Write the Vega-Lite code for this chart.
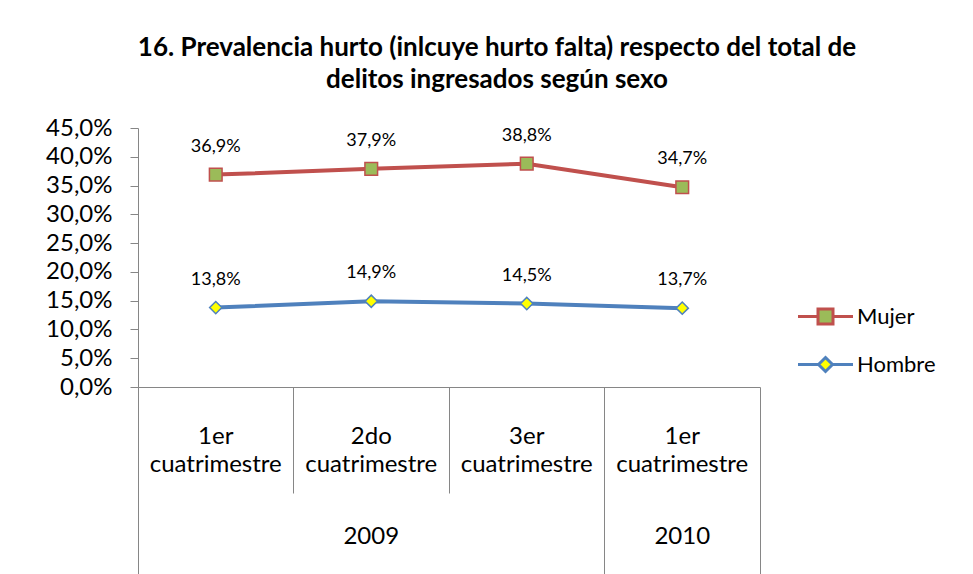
{
  "$schema": "https://vega.github.io/schema/vega-lite/v6.json",
  "width": 622,
  "height": 259,
  "autosize": {"type": "none"},
  "padding": {"left": 138, "top": 128, "right": 213, "bottom": 187},
  "background": "white",
  "config": {
    "locale": {"number": {"decimal": ",", "thousands": ".", "grouping": [3], "currency": ["", " €"]}},
    "view": {"stroke": null},
    "font": "Lato",
    "axisY": {
      "labelFont": "Lato", "labelFontSize": 24, "labelColor": "#000000",
      "labelPadding": 18, "tickSize": 8, "tickColor": "#868686", "domainColor": "#868686",
      "grid": false, "labelFlush": false, "labelOverlap": false
    }
  },
  "title": {
    "text": ["16. Prevalencia hurto (inlcuye hurto falta) respecto del total de", "delitos ingresados según sexo"],
    "font": "Lato",
    "fontSize": 26,
    "fontWeight": "bold",
    "color": "#000000",
    "lineHeight": 32,
    "anchor": "middle",
    "frame": "group",
    "dx": 48,
    "offset": 23
  },
  "data": {
    "values": [
      {"periodo": "1er cuatrimestre 2009", "serie": "Mujer", "valor": 0.369},
      {"periodo": "2do cuatrimestre 2009", "serie": "Mujer", "valor": 0.379},
      {"periodo": "3er cuatrimestre 2009", "serie": "Mujer", "valor": 0.388},
      {"periodo": "1er cuatrimestre 2010", "serie": "Mujer", "valor": 0.347},
      {"periodo": "1er cuatrimestre 2009", "serie": "Hombre", "valor": 0.138},
      {"periodo": "2do cuatrimestre 2009", "serie": "Hombre", "valor": 0.149},
      {"periodo": "3er cuatrimestre 2009", "serie": "Hombre", "valor": 0.145},
      {"periodo": "1er cuatrimestre 2010", "serie": "Hombre", "valor": 0.137}
    ]
  },
  "layer": [
    {
      "mark": {"type": "line", "strokeWidth": 4},
      "encoding": {
        "x": {
          "field": "periodo", "type": "nominal", "sort": null,
          "scale": {"type": "band", "paddingInner": 0, "paddingOuter": 0},
          "axis": {
            "orient": "bottom", "title": null, "bandPosition": 0, "labels": false, "grid": false,
            "domain": true, "domainColor": "#868686", "domainWidth": 1,
            "ticks": true, "tickColor": "#868686", "tickWidth": 1,
            "tickSize": {"condition": {"test": "datum.value === '2do cuatrimestre 2009' || datum.value === '3er cuatrimestre 2009'", "value": 106}, "value": 190}
          }
        },
        "y": {
          "field": "valor", "type": "quantitative",
          "scale": {"domain": [0, 0.45], "nice": false},
          "axis": {"title": null, "values": [0, 0.05, 0.1, 0.15, 0.2, 0.25, 0.3, 0.35, 0.4, 0.45], "format": ".1%"}
        },
        "color": {
          "field": "serie", "type": "nominal",
          "scale": {"domain": ["Mujer", "Hombre"], "range": ["#C0504D", "#4F81BD"]},
          "legend": {
            "title": null, "orient": "none", "legendX": 676, "legendY": 177, "padding": 0,
            "labelFont": "Lato", "labelFontSize": 22, "labelColor": "#000000",
            "symbolSize": 400, "symbolStrokeWidth": 3, "rowPadding": 21, "labelOffset": 20,
            "encode": {
              "symbols": {
                "update": {
                  "shape": {"signal": "datum.value === 'Mujer' ? 'M-2.75,0H-0.75M0.75,0H2.75M-0.75,-0.75H0.75V0.75H-0.75Z' : 'M-2.75,0H-0.7M0.7,0H2.75M0,-0.7L0.7,0L0,0.7L-0.7,0Z'"},
                  "fill": {"signal": "datum.value === 'Mujer' ? '#9BBB59' : '#FFFF00'"}
                }
              }
            }
          }
        }
      }
    },
    {
      "transform": [{"filter": "datum.serie === 'Mujer'"}],
      "mark": {"type": "point", "shape": "square", "filled": true, "opacity": 1, "fill": "#9BBB59", "stroke": "#C0504D", "strokeWidth": 1.5, "size": 160},
      "encoding": {
        "x": {
          "field": "periodo", "type": "nominal", "sort": null,
          "axis": {
            "orient": "bottom", "title": null, "bandPosition": 1, "values": ["1er cuatrimestre 2010"],
            "labels": false, "domain": false, "grid": false,
            "tickSize": 190, "tickColor": "#868686", "tickWidth": 1
          }
        },
        "y": {"field": "valor", "type": "quantitative", "axis": {"title": null, "values": [0, 0.05, 0.1, 0.15, 0.2, 0.25, 0.3, 0.35, 0.4, 0.45], "format": ".1%"}}
      }
    },
    {
      "transform": [{"filter": "datum.serie === 'Hombre'"}],
      "mark": {"type": "point", "shape": "diamond", "filled": true, "opacity": 1, "fill": "#FFFF00", "stroke": "#4F81BD", "strokeWidth": 1.5, "size": 150},
      "encoding": {
        "x": {"field": "periodo", "type": "nominal", "sort": null, "axis": null},
        "y": {"field": "valor", "type": "quantitative", "axis": {"title": null, "values": [0, 0.05, 0.1, 0.15, 0.2, 0.25, 0.3, 0.35, 0.4, 0.45], "format": ".1%"}}
      }
    },
    {
      "transform": [{"filter": "datum.serie === 'Mujer'"}],
      "mark": {"type": "text", "dy": -28, "fontSize": 18, "font": "Lato", "color": "#000000"},
      "encoding": {
        "x": {
          "field": "periodo", "type": "nominal", "sort": null,
          "axis": {
            "orient": "bottom", "title": null, "domain": false, "ticks": false, "grid": false,
            "labelExpr": "[split(datum.label, ' ')[0], split(datum.label, ' ')[1]]",
            "labelFont": "Lato", "labelFontSize": 24, "labelLineHeight": 28, "labelColor": "#000000",
            "labelPadding": 37, "labelAngle": 0, "labelOverlap": false, "labelLimit": 0
          }
        },
        "y": {"field": "valor", "type": "quantitative", "axis": {"title": null, "values": [0, 0.05, 0.1, 0.15, 0.2, 0.25, 0.3, 0.35, 0.4, 0.45], "format": ".1%"}},
        "text": {"field": "valor", "type": "quantitative", "format": ".1%"}
      }
    },
    {
      "transform": [{"filter": "datum.serie === 'Hombre'"}],
      "mark": {"type": "text", "dy": -28, "fontSize": 18, "font": "Lato", "color": "#000000"},
      "encoding": {
        "x": {
          "field": "periodo", "type": "nominal", "sort": null,
          "axis": {
            "orient": "bottom", "title": null, "domain": false, "ticks": false, "grid": false,
            "values": ["2do cuatrimestre 2009", "1er cuatrimestre 2010"],
            "labelExpr": "split(datum.label, ' ')[2]",
            "labelFont": "Lato", "labelFontSize": 24, "labelColor": "#000000",
            "labelPadding": 137, "labelAngle": 0, "labelOverlap": false, "labelLimit": 0
          }
        },
        "y": {"field": "valor", "type": "quantitative", "axis": {"title": null, "values": [0, 0.05, 0.1, 0.15, 0.2, 0.25, 0.3, 0.35, 0.4, 0.45], "format": ".1%"}},
        "text": {"field": "valor", "type": "quantitative", "format": ".1%"}
      }
    }
  ],
  "resolve": {"axis": {"x": "independent"}}
}
